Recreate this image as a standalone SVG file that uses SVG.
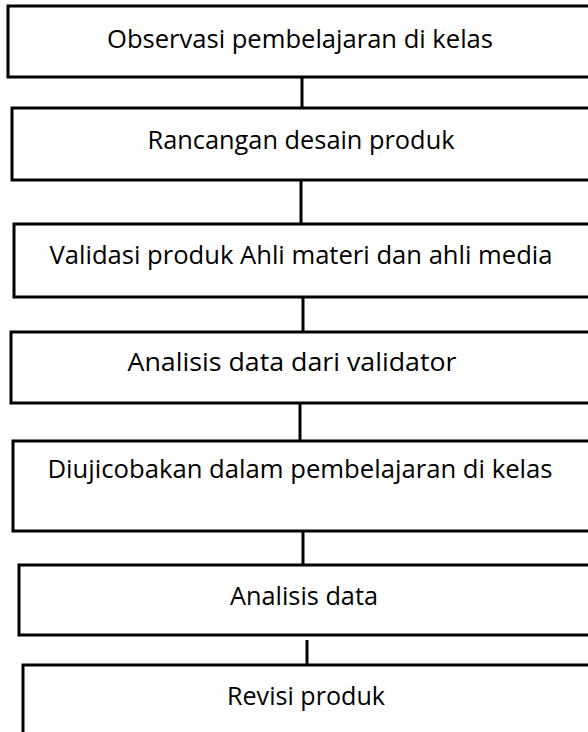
<svg xmlns="http://www.w3.org/2000/svg" width="588" height="732" viewBox="0 0 588 732">
<style>
.box{fill:#fff;stroke:#000;stroke-width:3}
.lbl{font-family:"Open Sans","Noto Sans","Liberation Sans",sans-serif;font-size:25px;fill:#000;text-anchor:middle}
.con{stroke:#000;stroke-width:3;fill:none}
</style>
<rect width="588" height="732" fill="#fff"/>
<g id="connectors">
<line class="con" x1="302" y1="77" x2="302" y2="108"/>
<line class="con" x1="301" y1="180" x2="301" y2="224"/>
<line class="con" x1="303" y1="297" x2="303" y2="332"/>
<line class="con" x1="300" y1="403" x2="300" y2="441"/>
<line class="con" x1="303" y1="531" x2="303" y2="565"/>
<line class="con" x1="307" y1="640" x2="307" y2="665"/>
</g>
<g id="n1"><rect class="box" x="8" y="6" width="600" height="71"/><text class="lbl" x="300" y="48" textLength="386" lengthAdjust="spacingAndGlyphs">Observasi pembelajaran di kelas</text></g>
<g id="n2"><rect class="box" x="12" y="108" width="600" height="72"/><text class="lbl" x="301" y="149" textLength="307" lengthAdjust="spacingAndGlyphs">Rancangan desain produk</text></g>
<g id="n3"><rect class="box" x="14" y="224" width="600" height="73"/><text class="lbl" x="301" y="264" textLength="503" lengthAdjust="spacingAndGlyphs">Validasi produk Ahli materi dan ahli media</text></g>
<g id="n4"><rect class="box" x="11" y="332" width="600" height="71"/><text class="lbl" x="292" y="371" textLength="329" lengthAdjust="spacingAndGlyphs">Analisis data dari validator</text></g>
<g id="n5"><rect class="box" x="13" y="441" width="600" height="90"/><text class="lbl" x="300" y="478" textLength="505" lengthAdjust="spacingAndGlyphs">Diujicobakan dalam pembelajaran di kelas</text></g>
<g id="n6"><rect class="box" x="19" y="565" width="600" height="70"/><text class="lbl" x="304" y="605" textLength="148" lengthAdjust="spacingAndGlyphs">Analisis data</text></g>
<g id="n7"><rect class="box" x="23" y="665" width="600" height="100"/><text class="lbl" x="306" y="705" textLength="158" lengthAdjust="spacingAndGlyphs">Revisi produk</text></g>
</svg>
